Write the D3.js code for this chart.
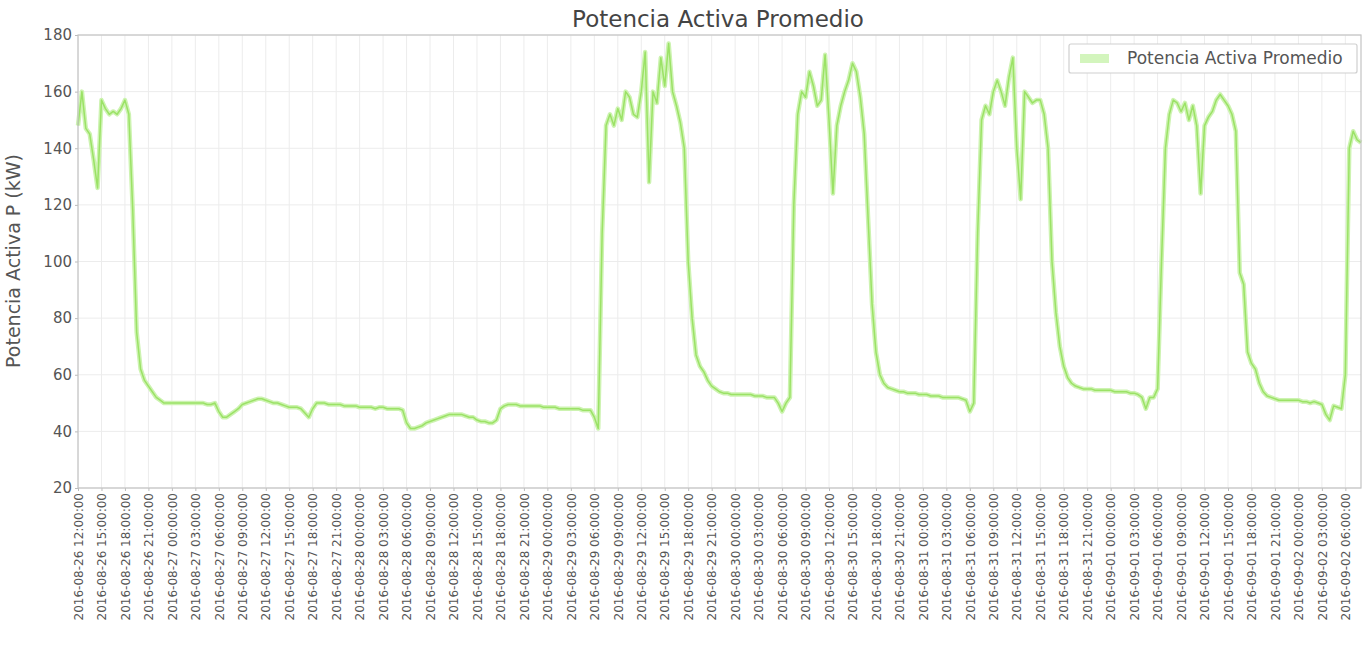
<!DOCTYPE html>
<html><head><meta charset="utf-8">
<script src="https://cdn.jsdelivr.net/npm/d3@7"></script>
<style>
body{margin:0;background:#fff;}
text{font-family:"DejaVu Sans",sans-serif;}
</style>
</head><body>
<svg id="chart" width="1367" height="664"></svg>
<script>
// ---------- data ----------
const chartTitle = "Potencia Activa Promedio";
const yAxisLabel = "Potencia Activa P (kW)";
const seriesName = "Potencia Activa Promedio";
const startTime = "2016-08-26 12:00:00";   // first sample
const stepMinutes = 30;                     // sample spacing
const tickEveryHours = 3;
const yTicks = [20, 40, 60, 80, 100, 120, 140, 160, 180];
const yDomain = [20, 180];

// kW, half-hourly, split by day
const friday1 = [148,160,147,145,136,126,157,154,152,153,152,154,157,152,118,75,62,58,56,54,52,51,50,50];
const saturday = [50,50,50,50,50,50,50,50,50,49.5,49.5,50,47,45,45,46,47,48,49.5,50,50.5,51,51.5,51.5,51,50.5,50,50,49.5,49,48.5,48.5,48.5,48,46.5,45,48,50,50,50,49.5,49.5,49.5,49.5,49,49,49,49];
const sunday = [48.5,48.5,48.5,48.5,48,48.5,48.5,48,48,48,48,47.5,43,41,41,41.5,42,43,43.5,44,44.5,45,45.5,46,46,46,46,45.5,45,45,44,43.5,43.5,43,43,44,48,49,49.5,49.5,49.5,49,49,49,49,49,49,48.5];
const monday = [48.5,48.5,48.5,48,48,48,48,48,48,47.5,47.5,47.5,45,41,110,148,152,148,154,150,160,158,152,151,160,174,128,160,156,172,162,177,160,155,149,140,100,80,67,63,61,58,56,55,54,53.5,53.5,53];
const tuesday = [53,53,53,53,53,52.5,52.5,52.5,52,52,52,50,47,50,52,120,152,160,158,167,162,155,157,173,150,124,148,155,160,164,170,167,158,145,115,85,68,60,57,55.5,55,54.5,54,54,53.5,53.5,53.5,53];
const wednesday = [53,53,52.5,52.5,52.5,52,52,52,52,52,51.5,51,47,50,110,150,155,152,160,164,160,155,165,172,140,122,160,158,156,157,157,152,140,100,82,70,63,59,57,56,55.5,55,55,55,54.5,54.5,54.5,54.5];
const thursday = [54.5,54,54,54,54,53.5,53.5,53,52,48,52,52,55,100,140,152,157,156,153,156,150,155,148,124,148,151,153,157,159,157,155,152,146,96,92,68,64,62,57,54,52.5,52,51.5,51,51,51,51,51];
const friday2 = [51,50.5,50.5,50,50.5,50,49.5,46,44,49,48.5,48,60,140,146,143,142];

// ---------- build ----------
const values = [].concat(friday1, saturday, sunday, monday, tuesday, wednesday, thursday, friday2);
const t0 = d3.timeParse("%Y-%m-%d %H:%M:%S")(startTime);
const data = values.map((v, i) => ({t: d3.timeMinute.offset(t0, i * stepMinutes), v}));

const svg = d3.select("#chart");
const L = 78, R = 1361, T = 35, B = 488;

const x = d3.scaleTime().domain(d3.extent(data, d => d.t)).range([L, R]);
const y = d3.scaleLinear().domain(yDomain).range([B, T]);
const xTickVals = d3.timeHour.every(tickEveryHours).range(t0, d3.timeMinute.offset(data[data.length-1].t, 1));
const fmt = d3.timeFormat("%Y-%m-%d %H:%M:%S");

// grid
const grid = svg.append("g");
grid.selectAll("line.vx").data(xTickVals).join("line")
  .attr("x1", d => x(d)).attr("x2", d => x(d)).attr("y1", T).attr("y2", B)
  .attr("stroke", "#ececec").attr("stroke-width", 1);
grid.selectAll("line.hy").data(yTicks).join("line")
  .attr("x1", L).attr("x2", R).attr("y1", d => y(d)).attr("y2", d => y(d))
  .attr("stroke", "#ececec").attr("stroke-width", 1);

// line
const line = d3.line().x(d => x(d.t)).y(d => y(d.v));
svg.append("path").datum(data).attr("d", line)
  .attr("fill", "none").attr("stroke", "#cdf3b1").attr("stroke-width", 4.5)
  .attr("stroke-linejoin", "round");
svg.append("path").datum(data).attr("d", line)
  .attr("fill", "none").attr("stroke", "#9be266").attr("stroke-width", 1.5)
  .attr("stroke-linejoin", "round");

// axes
const xAxis = svg.append("g").attr("transform", `translate(0,${B})`)
  .call(d3.axisBottom(x).tickValues(xTickVals).tickFormat(fmt).tickSize(3).tickSizeOuter(0));
xAxis.selectAll("text")
  .attr("transform", "rotate(-90)").attr("x", -5).attr("y", 0).attr("dy", "0.35em")
  .style("text-anchor", "end").attr("fill", "#555").style("font-size", "12px");

const yAxis = svg.append("g").attr("transform", `translate(${L},0)`)
  .call(d3.axisLeft(y).tickValues(yTicks).tickFormat(d3.format("d")).tickSize(3).tickSizeOuter(0));
yAxis.selectAll("text").attr("fill", "#555").style("font-size", "15px");

svg.selectAll(".domain").remove();
svg.selectAll(".tick line").attr("stroke", "#bbb");

// frame
svg.append("rect").attr("x", L).attr("y", T).attr("width", R - L).attr("height", B - T)
  .attr("fill", "none").attr("stroke", "#c4c4c4").attr("stroke-width", 1.2);

// title
svg.append("text").attr("x", 718).attr("y", 27).attr("text-anchor", "middle")
  .attr("fill", "#444").style("font-size", "23px").text(chartTitle);

// y label
svg.append("text").attr("transform", `translate(20,261) rotate(-90)`)
  .attr("text-anchor", "middle").attr("fill", "#555").style("font-size", "19px").text(yAxisLabel);

// legend
const lg = svg.append("g");
lg.append("rect").attr("x", 1069).attr("y", 44).attr("width", 288).attr("height", 29)
  .attr("fill", "#fff").attr("stroke", "#cfcfcf").attr("stroke-width", 1.2).attr("rx", 2);
lg.append("line").attr("x1", 1080).attr("x2", 1109).attr("y1", 58.5).attr("y2", 58.5)
  .attr("stroke", "#d3f5bd").attr("stroke-width", 9);
lg.append("text").attr("x", 1127).attr("y", 64).attr("fill", "#555")
  .style("font-size", "17px").text(seriesName);
</script>
</body></html>
